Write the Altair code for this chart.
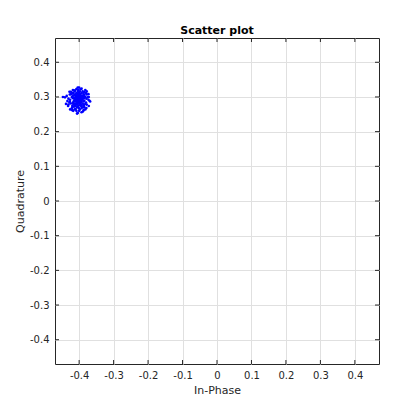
import altair as alt
import pandas as pd

in_phase = [
    -0.398, -0.417, -0.382, -0.406, -0.393, -0.427, -0.401, -0.387, -0.412, -0.373,
    -0.420, -0.396, -0.405, -0.389, -0.436, -0.400, -0.385, -0.415, -0.403, -0.379,
    -0.408, -0.393, -0.424, -0.394, -0.413, -0.386, -0.431, -0.398, -0.418, -0.380,
    -0.406, -0.390, -0.410, -0.401, -0.378, -0.421, -0.404, -0.387, -0.415, -0.396,
    -0.441, -0.372, -0.412, -0.400, -0.382, -0.426, -0.393, -0.417, -0.403, -0.385,
    -0.408, -0.389, -0.428, -0.394, -0.413, -0.375, -0.404, -0.398, -0.420, -0.387,
    -0.410, -0.380, -0.434, -0.401, -0.390, -0.418, -0.368, -0.406, -0.396, -0.424,
    -0.393, -0.415, -0.386, -0.427, -0.400, -0.412, -0.378, -0.404, -0.389, -0.432,
    -0.398, -0.417, -0.385, -0.408, -0.394, -0.421, -0.373, -0.403, -0.413, -0.387,
    -0.438, -0.382, -0.410, -0.400, -0.418, -0.390, -0.426, -0.379, -0.406, -0.393,
    -0.447, -0.401, -0.413, -0.386, -0.431, -0.396, -0.417, -0.382, -0.404, -0.372,
    -0.420, -0.394, -0.408, -0.389, -0.424, -0.398, -0.415, -0.378, -0.412, -0.403,
    -0.387, -0.428, -0.393, -0.406, -0.385, -0.418, -0.400, -0.410, -0.370, -0.421,
    -0.400, -0.407, -0.396, -0.411, -0.403, -0.398, -0.409, -0.394, -0.405, -0.401,
    -0.413, -0.399, -0.404, -0.392, -0.408, -0.402, -0.397, -0.410, -0.395, -0.406,
    -0.403, -0.391, -0.412, -0.400, -0.405, -0.398, -0.409, -0.396, -0.402, -0.407,
]
quadrature = [
    0.281, 0.296, 0.300, 0.270, 0.311, 0.287, 0.295, 0.278, 0.319, 0.292,
    0.274, 0.322, 0.284, 0.304, 0.303, 0.260, 0.315, 0.289, 0.307, 0.268,
    0.299, 0.288, 0.308, 0.274, 0.264, 0.296, 0.278, 0.316, 0.312, 0.284,
    0.278, 0.295, 0.303, 0.268, 0.307, 0.268, 0.327, 0.262, 0.304, 0.289,
    0.299, 0.274, 0.281, 0.300, 0.320, 0.292, 0.256, 0.260, 0.288, 0.289,
    0.311, 0.270, 0.315, 0.304, 0.276, 0.299, 0.254, 0.308, 0.299, 0.312,
    0.265, 0.311, 0.288, 0.299, 0.281, 0.320, 0.287, 0.292, 0.278, 0.281,
    0.324, 0.272, 0.274, 0.307, 0.287, 0.295, 0.278, 0.315, 0.299, 0.274,
    0.264, 0.311, 0.303, 0.260, 0.292, 0.300, 0.308, 0.320, 0.296, 0.287,
    0.280, 0.264, 0.288, 0.312, 0.284, 0.316, 0.264, 0.295, 0.303, 0.268,
    0.300, 0.276, 0.316, 0.307, 0.295, 0.300, 0.280, 0.280, 0.308, 0.300,
    0.262, 0.284, 0.323, 0.258, 0.315, 0.292, 0.287, 0.316, 0.307, 0.272,
    0.303, 0.284, 0.276, 0.252, 0.270, 0.304, 0.327, 0.274, 0.289, 0.311,
    0.295, 0.289, 0.298, 0.293, 0.284, 0.301, 0.297, 0.288, 0.305, 0.291,
    0.296, 0.283, 0.299, 0.294, 0.287, 0.302, 0.292, 0.280, 0.299, 0.297,
    0.289, 0.293, 0.290, 0.304, 0.282, 0.286, 0.303, 0.296, 0.290, 0.294,
]
tick_values = [-0.4, -0.3, -0.2, -0.1, 0.0, 0.1, 0.2, 0.3, 0.4]
axis_domain = [-0.47, 0.47]

W, H = 324, 326
TICK = 4
INK = "#262626"

df = pd.DataFrame({"I": in_phase, "Q": quadrature})
ticks_df = pd.DataFrame({"v": tick_values})

label_expr = ("datum.value == 0 ? '0' : (datum.value < 0 ? '-' + format(abs(datum.value), '.1f') "
              ": format(datum.value, '.1f'))")

xscale = alt.Scale(domain=axis_domain, nice=False, zero=False)
yscale = alt.Scale(domain=axis_domain, nice=False, zero=False)


def make_axis(title, title_pad):
    return alt.Axis(
        title=title, values=tick_values, labelExpr=label_expr,
        grid=True, gridColor="#e0e0e0", gridWidth=1,
        domain=False, ticks=False,
        labelFont="DejaVu Sans", labelFontSize=10, labelColor=INK, labelPadding=6,
        titleFont="DejaVu Sans", titleFontSize=11, titleFontWeight="normal",
        titleColor=INK, titlePadding=title_pad,
    )


x_axis = make_axis("In-Phase", 4)
y_axis = make_axis("Quadrature", 4)

points = alt.Chart(df).mark_circle(size=7, color="#0000ff", opacity=1).encode(
    x=alt.X("I:Q", scale=xscale, axis=x_axis),
    y=alt.Y("Q:Q", scale=yscale, axis=y_axis),
)

tick_base = alt.Chart(ticks_df).mark_rule(color=INK, strokeWidth=1)
bottom_ticks = tick_base.encode(x=alt.X("v:Q", scale=xscale, axis=x_axis),
                                y=alt.value(H), y2=alt.value(H - TICK))
top_ticks = tick_base.encode(x=alt.X("v:Q", scale=xscale, axis=x_axis),
                             y=alt.value(0), y2=alt.value(TICK))
left_ticks = tick_base.encode(y=alt.Y("v:Q", scale=yscale, axis=y_axis),
                              x=alt.value(0), x2=alt.value(TICK))
right_ticks = tick_base.encode(y=alt.Y("v:Q", scale=yscale, axis=y_axis),
                               x=alt.value(W), x2=alt.value(W - TICK))

chart = alt.layer(bottom_ticks, top_ticks, left_ticks, right_ticks, points).properties(
    width=W, height=H,
    title=alt.TitleParams("Scatter plot", font="DejaVu Sans", fontSize=11,
                          fontWeight="bold", color="#000000", offset=2),
    autosize=alt.AutoSizeParams(type="none"),
    padding={"left": 47, "top": 30, "right": 20, "bottom": 40},
).configure_view(stroke=INK, strokeWidth=1)

chart.save("out.html", embed_options={"renderer": "svg", "actions": False})
